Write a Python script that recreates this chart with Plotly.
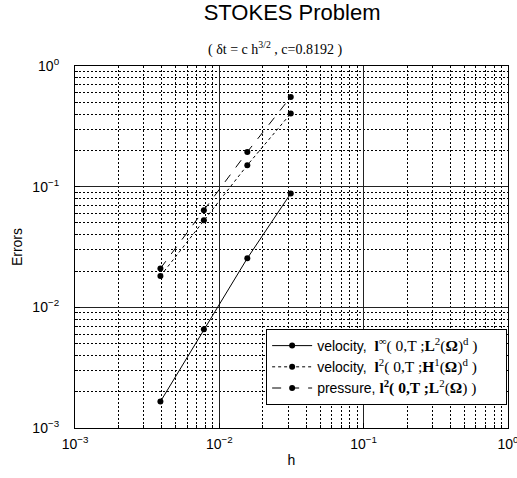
import plotly.graph_objects as go

h = [1/256, 1/128, 1/64, 1/32]
err_vel_linf = [0.001655, 0.00658, 0.0255, 0.0879]
err_vel_h1 = [0.01816, 0.0528, 0.1507, 0.404]
err_pres = [0.0210, 0.0639, 0.194, 0.554]

SERIF = "font-family:'Liberation Serif','Times New Roman',serif;font-size:15.5px"
PAD = "&nbsp;" * 6
names = [
    f"velocity,  <span style=\"{SERIF}\"><b>l</b><sup>∞</sup>( 0,T ;<b>L</b><sup>2</sup>(<b>Ω</b>)<sup>d</sup> )</span>{PAD}",
    f"velocity,  <span style=\"{SERIF}\"><b>l</b><sup>2</sup>( 0,T ;<b>H</b><sup>1</sup>(<b>Ω</b>)<sup>d</sup> )</span>{PAD}",
    f"pressure, <span style=\"{SERIF}\"><b>l<sup>2</sup>( 0,T ;L</b><sup>2</sup>(<b>Ω</b>) )</span>{PAD}",
]
series = [err_vel_linf, err_vel_h1, err_pres]
dashes = ["solid", "dot", "dash"]

tickvals = [1e-3, 1e-2, 1e-1, 1]
ticktext = ["10<sup>−3</sup>", "10<sup>−2</sup>", "10<sup>−1</sup>", "10<sup>0</sup>"]

fig = go.Figure()
for name, ys, d in zip(names, series, dashes):
    fig.add_trace(go.Scatter(
        x=h, y=ys, name=name, mode="lines+markers",
        line=dict(color="black", width=1, dash=d),
        marker=dict(color="black", size=6, symbol="circle"),
    ))

axis_common = dict(
    type="log", tickvals=tickvals, ticktext=ticktext, automargin=False,
    showgrid=True, gridcolor="#222222", gridwidth=1.2,
    ticks="inside", ticklen=5, tickcolor="black",
    showline=True, linecolor="black", linewidth=1.2, mirror=True,
    zeroline=False, ticklabeloverflow="allow",
    tickfont=dict(family="Liberation Sans, Arial", size=14, color="black"),
    minor=dict(dtick="D1", showgrid=True, gridcolor="black", griddash="2px,2px", gridwidth=1,
               ticks="inside", ticklen=3, tickcolor="black"),
)

fig.update_xaxes(range=[-3, 0], ticklabelstandoff=3,
                 title=dict(text="h", font=dict(size=14, color="black"), standoff=4), **axis_common)
fig.update_yaxes(range=[-3, 0], ticklabelstandoff=12,
                 title=dict(text="Errors", font=dict(size=14, color="black"), standoff=6), **axis_common)

fig.update_layout(
    width=517, height=478,
    margin=dict(l=75, r=9, t=66, b=50),
    paper_bgcolor="white", plot_bgcolor="white",
    font=dict(family="Liberation Sans, Arial", color="black"),
    title=dict(text="STOKES Problem", x=0.565, xanchor="center", y=0.975, yanchor="middle",
               font=dict(size=22, color="black")),
    showlegend=True,
    legend=dict(x=0.998, xanchor="right", y=0.0635, yanchor="bottom",
                bgcolor="white", bordercolor="black", borderwidth=1,
                font=dict(size=14, color="black"), tracegroupgap=0,
                itemwidth=40),
    annotations=[dict(
        text="( δt = c h<sup>3/2</sup> , c=0.8192 )",
        xref="paper", yref="paper", x=0.463, y=1.047, xanchor="center", yanchor="middle",
        showarrow=False, font=dict(family="Liberation Serif, Times New Roman", size=14, color="black"),
    )],
)

fig.write_html("out.html", config={"displayModeBar": False},
               post_script="document.body.style.margin='0';")
